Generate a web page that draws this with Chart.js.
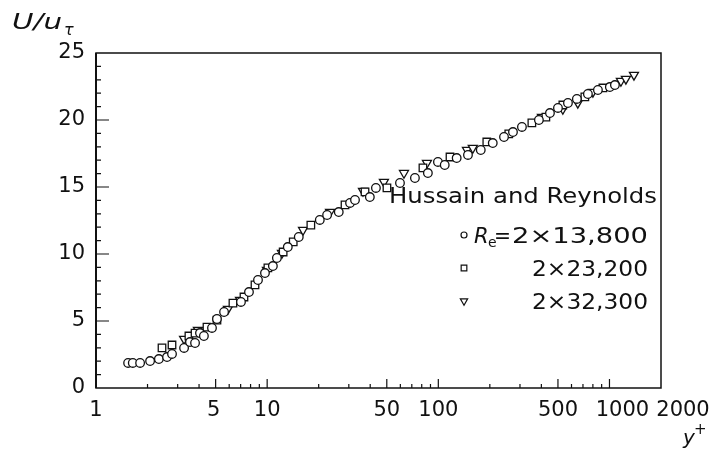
<!DOCTYPE html>
<html>
<head>
<meta charset="utf-8">
<script src="https://cdn.jsdelivr.net/npm/chart.js@4.4.0/dist/chart.umd.min.js"></script>
<style>
  html, body { margin: 0; background: #fff; }
  #wrap { width: 725px; height: 452px; position: relative; }
</style>
</head>
<body>
<div id="wrap"><canvas id="chart"></canvas></div>
<script>
// Hussain and Reynolds, U/u_tau against y+
const re13800X = [1.54, 1.64, 1.81, 2.07, 2.33, 2.60, 2.78, 3.27, 3.54, 3.79, 4.05, 4.27, 4.76, 5.09, 5.60,
  7.03, 7.83, 8.84, 9.71, 10.8, 11.4, 13.2, 15.3, 20.3, 22.4, 26.2, 30.5, 32.6, 39.8, 43.2, 59.7, 73.0,
  86.9, 99.5, 109, 128, 149, 177, 208, 242, 273, 308, 387, 449, 500, 572, 645, 748, 856, 1005, 1076];
const re13800U = [1.87, 1.87, 1.87, 2.01, 2.16, 2.31, 2.54, 2.99, 3.43, 3.36, 4.10, 3.88, 4.48, 5.15, 5.67,
  6.42, 7.16, 8.06, 8.58, 9.10, 9.70, 10.52, 11.27, 12.54, 12.91, 13.13, 13.81, 14.03, 14.25, 14.93, 15.30, 15.67,
  16.04, 16.87, 16.64, 17.16, 17.39, 17.76, 18.28, 18.73, 19.10, 19.48, 20.00, 20.52, 20.90, 21.27, 21.57, 21.94, 22.24, 22.46, 22.61];

const re23200X = [2.43, 2.78, 3.49, 3.79, 4.45, 5.09, 6.31, 7.32, 8.49, 10.1, 12.4, 14.2, 18.0, 28.5, 37.3,
  50.1, 81.3, 117, 192, 258, 352, 425, 534, 718, 915];
const re23200U = [2.99, 3.21, 3.88, 4.10, 4.55, 5.07, 6.34, 6.79, 7.69, 8.96, 10.15, 10.90, 12.16, 13.66, 14.63,
  14.93, 16.42, 17.24, 18.36, 18.96, 19.78, 20.22, 21.12, 21.72, 22.39];

const re32300X = [3.27, 3.94, 5.90, 6.94, 9.97, 12.2, 16.2, 23.3, 36.3, 48.1, 63.0, 85.8, 147, 159, 403,
  534, 653, 800, 1166, 1247, 1390];
const re32300U = [3.66, 4.33, 5.90, 6.57, 8.81, 10.07, 11.79, 13.13, 14.70, 15.37, 16.04, 16.79, 17.76, 17.91, 20.22,
  20.82, 21.27, 22.09, 22.91, 23.06, 23.36];

const xTickValues = [1, 5, 10, 50, 100, 500, 1000, 2000];
const xMinorValues = [2, 3, 4, 6, 7, 8, 9, 20, 30, 40, 60, 70, 80, 90, 200, 300, 400, 600, 700, 800, 900];
const xMajorValues = [5, 10, 50, 100, 500, 1000];
const yTickValues = [0, 5, 10, 15, 20, 25];
const legendLabels = ["2\u00D713,800", "2\u00D723,200", "2\u00D732,300"];

const FONT = "'DejaVu Sans', sans-serif";
const INK = "#111";
// the printed figure nudges the crowded right-hand labels to the right
const xLabelShift = [0, -2, 0, 0, 0, 0, 13, 22];

function toPoints(xs, ys) {
  return xs.map((x, i) => ({ x: x, y: ys[i] }));
}

function stretchText(ctx, text, x, y, width) {
  const w = ctx.measureText(text).width;
  ctx.save();
  ctx.translate(x, y);
  ctx.scale(width / w, 1);
  ctx.fillText(text, 0, 0);
  ctx.restore();
}

const decorations = {
  id: "decorations",
  beforeDraw(chart) {
    const items = chart.scales.x.getLabelItems ? chart.scales.x.getLabelItems() : [];
    items.forEach((it, i) => {
      if (it.options && it.options.translation && xLabelShift[i] && !it._shifted) {
        it.options.translation[0] += xLabelShift[i];
        it._shifted = true;
      }
    });
  },
  afterDraw(chart) {
    const ctx = chart.ctx;
    const a = chart.chartArea;
    const xs = chart.scales.x;
    const ys = chart.scales.y;
    ctx.save();
    ctx.strokeStyle = INK;
    ctx.lineWidth = 1.5;
    ctx.strokeRect(a.left, a.top, a.right - a.left, a.bottom - a.top);
    ctx.lineWidth = 2;
    ctx.beginPath();
    ctx.moveTo(a.left, a.top);
    ctx.lineTo(a.left, a.bottom);
    ctx.stroke();

    // inward ticks
    ctx.lineWidth = 1.2;
    ctx.beginPath();
    xMinorValues.forEach(v => {
      const px = xs.getPixelForValue(v);
      ctx.moveTo(px, a.bottom);
      ctx.lineTo(px, a.bottom - 4);
    });
    xMajorValues.forEach(v => {
      const px = xs.getPixelForValue(v);
      ctx.moveTo(px, a.bottom);
      ctx.lineTo(px, a.bottom - 9);
    });
    for (let v = 1; v < 25; v++) {
      const py = ys.getPixelForValue(v);
      ctx.moveTo(a.left, py);
      ctx.lineTo(a.left + (v % 5 === 0 ? 13 : 5), py);
    }
    ctx.stroke();

    ctx.fillStyle = INK;
    ctx.textBaseline = "alphabetic";
    ctx.textAlign = "left";
    // y title
    ctx.font = "italic 21px " + FONT;
    stretchText(ctx, "U/u", 12, 29, 50);
    ctx.font = "italic 16px " + FONT;
    ctx.fillText("\u03C4", 64, 35);
    // x title
    ctx.font = "italic 20px " + FONT;
    ctx.fillText("y", 683, 444);
    ctx.font = "15px " + FONT;
    ctx.fillText("+", 694, 434);

    // legend
    ctx.font = "21px " + FONT;
    stretchText(ctx, "Hussain and Reynolds", 389, 203, 268);

    const rows = [243, 276, 309];
    const starts = [512, 532, 532];
    const styles = ["circle", "rect", "triangle"];
    const radii = [3, 4, 4.2];
    rows.forEach((yb, i) => {
      ctx.font = "21px " + FONT;
      stretchText(ctx, legendLabels[i], starts[i], yb, 648 - starts[i]);
      ctx.lineWidth = 1.2;
      ctx.strokeStyle = INK;
      ctx.fillStyle = "#fff";
      Chart.helpers.drawPoint(ctx, { pointStyle: styles[i], radius: radii[i], rotation: i === 2 ? 180 : 0, borderWidth: 1.2 }, 464, yb - 8);
      ctx.fillStyle = INK;
    });
    ctx.font = "italic 21px " + FONT;
    ctx.fillText("R", 474, 243);
    ctx.font = "14px " + FONT;
    ctx.fillText("e", 488, 247);
    ctx.font = "21px " + FONT;
    stretchText(ctx, "=", 494, 243, 17);
    ctx.restore();
  }
};

const pointBase = {
  showLine: false,
  backgroundColor: "rgba(255,255,255,0)",
  borderColor: INK,
  pointBackgroundColor: "#fff",
  pointBorderColor: INK,
  pointBorderWidth: 1.3
};

new Chart(document.getElementById("chart"), {
  type: "scatter",
  data: {
    datasets: [
      Object.assign({ label: "Re=2x13,800", data: toPoints(re13800X, re13800U), pointStyle: "circle", pointRadius: 4.3 }, pointBase),
      Object.assign({ label: "2x23,200", data: toPoints(re23200X, re23200U), pointStyle: "rect", pointRadius: 5.3 }, pointBase),
      Object.assign({ label: "2x32,300", data: toPoints(re32300X, re32300U), pointStyle: "triangle", pointRotation: 180, pointRadius: 5.2 }, pointBase)
    ]
  },
  options: {
    responsive: true,
    maintainAspectRatio: false,
    animation: false,
    devicePixelRatio: 1,
    layout: { padding: { left: 0, right: 64, top: 53, bottom: 0 } },
    plugins: { legend: { display: false }, tooltip: { enabled: false } },
    scales: {
      x: {
        type: "logarithmic",
        min: 1,
        max: 2000,
        grid: { display: false, drawTicks: false },
        border: { display: false },
        afterBuildTicks: s => { s.ticks = xTickValues.map(v => ({ value: v })); },
        afterFit: s => { s.height = 64; },
        ticks: {
          autoSkip: false,
          maxRotation: 0,
          padding: 10,
          color: INK,
          font: { family: FONT, size: 21 },
          callback: v => String(v)
        }
      },
      y: {
        min: 0,
        max: 25,
        grid: { display: false, drawTicks: false },
        border: { display: false },
        afterBuildTicks: s => { s.ticks = yTickValues.map(v => ({ value: v })); },
        afterFit: s => { s.width = 96; },
        ticks: {
          padding: 11,
          color: INK,
          font: { family: FONT, size: 21 },
          callback: v => String(v)
        }
      }
    }
  },
  plugins: [decorations]
});
</script>
</body>
</html>
